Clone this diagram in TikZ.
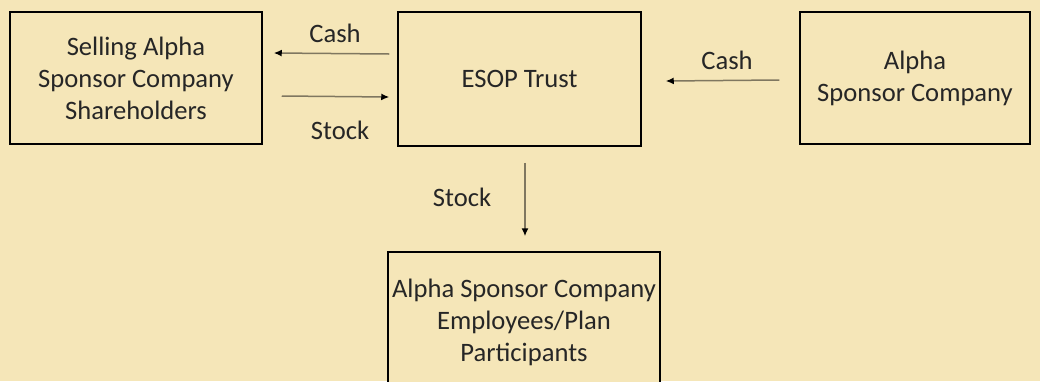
\documentclass[tikz,border=0pt]{standalone}
\usepackage{fontspec}
\setmainfont{Carlito}
\usetikzlibrary{arrows.meta,calc}
\definecolor{paper}{HTML}{F5E6B8}
\definecolor{ink}{HTML}{262626}
\definecolor{flowline}{HTML}{7F7760}
\begin{document}
\begin{tikzpicture}
[
x=0.5pt,y=-0.5pt,
party/.style={draw=black,fill=paper,text=ink,align=center,inner sep=0pt,
line width=0.75pt,font=\fontsize{13.3pt}{16pt}\selectfont},
flow/.style={draw=flowline,line width=0.75pt,-{Latex[length=4pt,width=3.5pt,color=black]}},
tag/.style={text=ink,font=\fontsize{13.3pt}{16pt}\selectfont}
]
\fill[paper] (0,0) rectangle (1040,381);
\useasboundingbox (0,0) rectangle (1040,381);
\node[party,minimum width=126pt,minimum height=66pt] (sell) at (136,78)
{Selling Alpha\\Sponsor Company\\Shareholders};
\node[party,minimum width=121.5pt,minimum height=67pt] (esop) at (519.5,79)
{ESOP Trust};
\node[party,minimum width=115pt,minimum height=66pt] (alpha) at (915,78)
{Alpha\\Sponsor Company};
\node[party,minimum width=136pt,minimum height=70pt] (plan) at (524,322)
{Alpha Sponsor Company\\Employees/Plan\\Participants};
\node[tag] (cash1) at (335,33) {Cash};
\node[tag] (stock1) at (340,130) {Stock};
\node[tag] (cash2) at (727,60) {Cash};
\node[tag] (stock2) at (462,197) {Stock};
\draw[flow] ($(esop.west)+(-8,-25)$)--($(sell.east)+(11,-25)$);
\draw[flow] ($(sell.east)+(19,18)$)--($(esop.west)+(-8,18)$);
\draw[flow] ($(alpha.west)+(-20,2)$)--($(esop.east)+(24,2)$);
\draw[flow] ($(esop.south)+(5.5,16)$)--($(plan.north)+(1,-15)$);
\end{tikzpicture}
\end{document}
